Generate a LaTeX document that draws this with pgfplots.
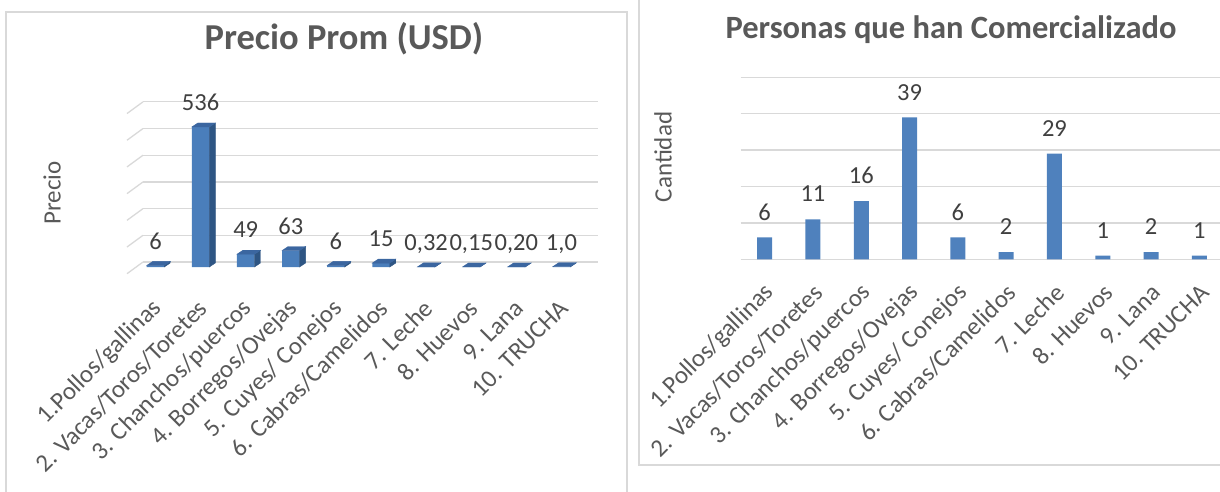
\documentclass[border=0pt]{standalone}
\usepackage{pgfplots}
\pgfplotsset{compat=1.18}
\usepackage{pgfplotstable}
\usepackage{fontspec}
\setmainfont{Carlito}
\definecolor{barblue}{HTML}{4F81BD}
\definecolor{front3d}{HTML}{4A7EBB}
\definecolor{side3d}{HTML}{2E5583}
\definecolor{top3d}{HTML}{3B66A0}
\definecolor{gridc}{HTML}{D9D9D9}
\definecolor{txt}{HTML}{595959}
\definecolor{lbl}{HTML}{404040}
\pgfdeclareplotmark{blank}{}
\newcommand{\yu}{0.26120}
\newcommand{\fs}[1]{\fontsize{#1}{#1}\selectfont}

\pgfplotstableread{
x y lab
1 6 6
2 536 536
3 49 49
4 63 63
5 6 6
6 15 15
7 0.32 0,32
8 0.15 0,15
9 0.20 0,20
10 1.0 1,0
}\precio

\pgfplotstableread{
x y lab
1 6 6
2 11 11
3 16 16
4 39 39
5 6 6
6 2 2
7 29 29
8 1 1
9 2 2
10 1 1
}\personas

\pgfplotstableread{
x y
0.723 19.1
0.368 -25.7
nan nan
0.723 121.3
0.368 76.5
nan nan
0.723 223.5
0.368 178.7
nan nan
0.723 325.7
0.368 280.9
nan nan
0.723 427.9
0.368 383.1
nan nan
0.723 530.1
0.368 485.3
nan nan
0.723 632.3
0.368 587.5
}\slants

\begin{document}
\begin{tikzpicture}[x=1pt,y=1pt]
\useasboundingbox (0,0) rectangle (1220,491);
\clip (0,0) rectangle (1220,491);
% frames
\draw[gridc, line width=1.5pt] (6,479) rectangle (627,-20);
\draw[gridc, line width=1.5pt] (639,520) rectangle (1240,26);

% titles
\node[anchor=base, text=txt, font=\fs{36.5}\bfseries] at (344,441) {Precio Prom (USD)};
\node[anchor=base, text=txt, font=\fs{32.5}\bfseries] at (951,452.7) {Personas que han Comercializado};
\node[rotate=90, text=txt, font=\fs{25}] at (52,298) {Precio};
\node[rotate=90, text=txt, font=\fs{25}] at (663,334) {Cantidad};

% left 3D chart
\begin{axis}[
  at={(143pt,224pt)}, anchor=south west,
  scale only axis, width=455pt, height=167.17pt,
  xmin=0.723, xmax=10.81, ymin=0, ymax=640,
  clip=false,
  axis line style={draw=none},
  major tick length=0pt,
  ytick={19.1,121.3,223.5,325.7,427.9,530.1,632.3},
  yticklabels={},
  ymajorgrids,
  major grid style={gridc, line width=1.3pt},
  xtick={1,...,10},
  xticklabels={1.Pollos/gallinas, 2. Vacas/Toros/Toretes, 3. Chanchos/puercos, 4. Borregos/Ovejas, 5. Cuyes/ Conejos, 6. Cabras/Camelidos, 7. Leche, 8. Huevos, 9. Lana, 10. TRUCHA},
  xticklabel style={xshift=5pt, yshift=-35pt, rotate=45, anchor=east, font=\fs{25}, text=txt},
]
\addplot[gridc, line width=1.3pt, unbounded coords=jump] table[x=x,y=y] {\slants};
\addplot[ybar, bar width=17.5pt, fill=front3d, draw=none,
  nodes near coords, point meta=explicit symbolic,
  every node near coord/.append style={font=\fs{24.5}, text=lbl, text depth=0pt, yshift=12.8pt}]
  table[x=x, y=y, meta=lab] {\precio};
\addplot[scatter, only marks, mark=blank,
  visualization depends on={rawy \as \rawy},
  scatter/@pre marker code/.code={%
    \pgfmathsetmacro\hh{\rawy*\yu}%
    \pgfmathsetmacro\hb{4-\hh}%
    \pgfmathsetmacro\hc{-\hh}%
    \fill[side3d] (8.75pt,0pt) -- (14.75pt,4pt) -- (14.75pt,\hb pt) -- (8.75pt,\hc pt) -- cycle;
    \fill[top3d] (-8.75pt,0pt) -- (-2.75pt,4pt) -- (14.75pt,4pt) -- (8.75pt,0pt) -- cycle;
  },
  scatter/@post marker code/.code={}]
  table[x=x, y=y] {\precio};
\end{axis}

% right chart
\begin{axis}[
  at={(740.5pt,231.7pt)}, anchor=south west,
  scale only axis, width=483pt, height=182pt,
  xmin=0.5, xmax=10.5, ymin=0, ymax=50,
  axis line style={draw=none},
  major tick length=0pt,
  ytick={0,10,...,50},
  yticklabels={},
  ymajorgrids,
  major grid style={gridc, line width=1.3pt},
  xtick={1,...,10},
  xticklabels={1.Pollos/gallinas, 2. Vacas/Toros/Toretes, 3. Chanchos/puercos, 4. Borregos/Ovejas, 5. Cuyes/ Conejos, 6. Cabras/Camelidos, 7. Leche, 8. Huevos, 9. Lana, 10. TRUCHA},
  xticklabel style={xshift=8pt, yshift=-27pt, rotate=45, anchor=east, font=\fs{25}, text=txt},
]
\addplot[ybar, bar width=15pt, fill=barblue, draw=none,
  nodes near coords, point meta=explicit symbolic,
  every node near coord/.append style={font=\fs{24.5}, text=lbl, text depth=0pt, yshift=13.8pt}]
  table[x=x, y=y, meta=lab] {\personas};
\end{axis}
\end{tikzpicture}
\end{document}
